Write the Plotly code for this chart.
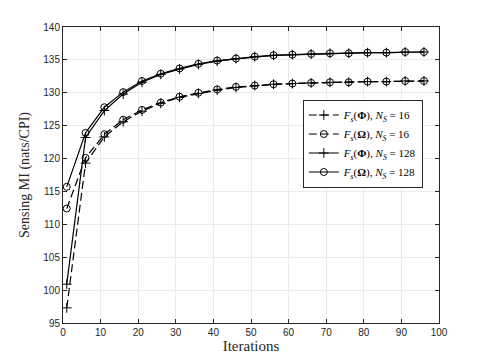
import plotly.graph_objects as go

iterations = list(range(1, 97, 5))

phi_16 = [97.3, 119.3, 123.3, 125.6, 127.2, 128.4, 129.3, 129.9, 130.4, 130.8,
          131.1, 131.3, 131.4, 131.5, 131.6, 131.6, 131.7, 131.7, 131.8, 131.8]
omega_16 = [112.4, 120.1, 123.7, 125.9, 127.4, 128.5, 129.4, 130.0, 130.5, 130.9,
            131.1, 131.3, 131.4, 131.5, 131.6, 131.6, 131.7, 131.7, 131.8, 131.8]
phi_128 = [100.9, 123.2, 127.3, 129.8, 131.6, 132.8, 133.6, 134.3, 134.8, 135.2,
           135.5, 135.7, 135.8, 135.9, 136.0, 136.0, 136.1, 136.1, 136.2, 136.2]
omega_128 = [115.7, 123.9, 127.8, 130.1, 131.8, 132.9, 133.7, 134.4, 134.9, 135.2,
             135.5, 135.7, 135.8, 135.9, 136.0, 136.0, 136.1, 136.1, 136.2, 136.2]

names = [
    "<i>F<sub>s</sub></i>(<b>Φ</b>), <i>N<sub>S</sub></i> = 16",
    "<i>F<sub>s</sub></i>(<b>Ω</b>), <i>N<sub>S</sub></i> = 16",
    "<i>F<sub>s</sub></i>(<b>Φ</b>), <i>N<sub>S</sub></i> = 128",
    "<i>F<sub>s</sub></i>(<b>Ω</b>), <i>N<sub>S</sub></i> = 128",
]
series = [phi_16, omega_16, phi_128, omega_128]
dashes = ["8px,4px", "8px,4px", "solid", "solid"]
symbols = ["cross-thin-open", "circle-open", "cross-thin-open", "circle-open"]

fig = go.Figure()
for name, ys, dash, sym in zip(names, series, dashes, symbols):
    fig.add_trace(go.Scatter(
        x=iterations, y=ys, name=name, mode="lines+markers",
        line={"color": "black", "width": 1.2, "dash": dash},
        marker={"symbol": sym, "size": 7, "color": "black",
                "line": {"color": "black", "width": 1}},
    ))

axis_common = {
    "showline": True, "linecolor": "#262626", "linewidth": 1, "mirror": "ticks",
    "ticks": "inside", "ticklen": 4, "tickcolor": "#262626",
    "showgrid": True, "gridcolor": "#ebebeb", "gridwidth": 1,
    "zeroline": False,
    "tickfont": {"family": "Liberation Sans", "size": 10, "color": "#262626"},
}

fig.update_xaxes(axis_common, range=[0, 100], dtick=10,
                 title={"text": "Iterations", "standoff": 2,
                        "font": {"family": "Liberation Serif", "size": 15, "color": "#262626"}})
fig.update_yaxes(axis_common, range=[95, 140], dtick=5,
                 title={"text": "Sensing MI (nats/CPI)", "standoff": 10,
                        "font": {"family": "Liberation Serif", "size": 14, "color": "#262626"}})

# page body has an 8px margin, so the plot area is placed with that offset in mind
fig.update_layout(
    width=485, height=363,
    margin={"l": 55, "r": 54, "t": 19, "b": 48},
    plot_bgcolor="white", paper_bgcolor="white",
    legend={"x": 0.957, "y": 0.755, "xanchor": "right", "yanchor": "top",
            "bgcolor": "white", "bordercolor": "#262626", "borderwidth": 1,
            "font": {"family": "Liberation Serif", "size": 11, "color": "black"},
            "tracegroupgap": 0, "itemwidth": 30},
)

fig.write_html("out.html")
